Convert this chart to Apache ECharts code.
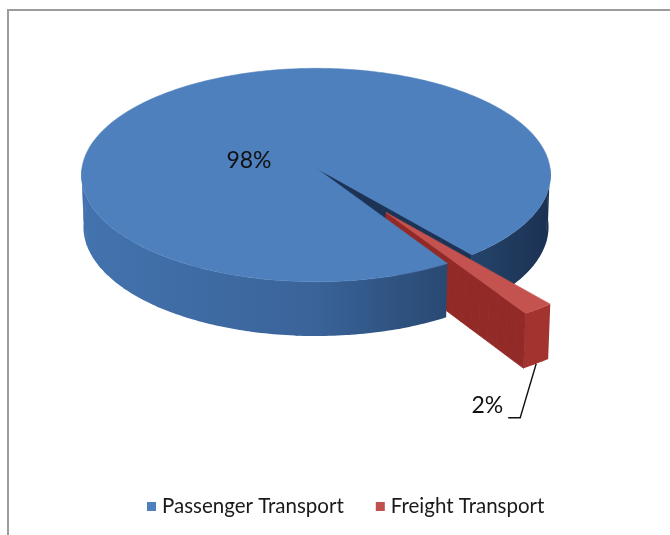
<!DOCTYPE html>
<html>
<head>
<meta charset="utf-8">
<script src="https://cdn.jsdelivr.net/npm/echarts@6/dist/echarts.min.js"></script>
<style>
  html, body { margin: 0; padding: 0; background: #ffffff; }
  #chart { width: 670px; height: 535px; }
</style>
</head>
<body>
<div id="chart"></div>
<script>
// Share of transport energy use, by segment
const categories = ['Passenger Transport', 'Freight Transport'];
const values = [98, 2];
const sliceColors = ['#4d80bd', '#c0504d'];

// Perspective camera for the tilted pie disk
const VIEW = {
  cx: 316, cy: 168,          // screen position of the disk centre
  focal: 3159, dist: 13.5,   // focal length and camera distance (disk radius = 1)
  tilt: 27 * Math.PI / 180,  // elevation of the camera
  thickness: 0.25,           // disk thickness
  firstAngle: 148,           // first slice starts here, clockwise from 12 o'clock
  explode: [0, 0.5]          // radial pull-out per slice
};

// Wall / face shading per slice
const SHADE = [
  { top: '#4d80bd', wall: [['#4373ae', 0], ['#3a6399', 0.5], ['#27476f', 0.8], ['#1b3152', 1]], edge: '#1c3355' },
  { top: '#c4524e', wall: [['#a3332f', 0], ['#a3332f', 1]], edge: '#922a27' }
];

const total = values.reduce((a, b) => a + b, 0);

function project(x, y, z) {
  const s = Math.sin(VIEW.tilt), c = Math.cos(VIEW.tilt);
  const zv = -y * s + z * c + VIEW.dist;
  const yv = y * c + z * s;
  return [VIEW.cx + VIEW.focal * x / zv, VIEW.cy - VIEW.focal * yv / zv, zv];
}

function pt(phiDeg, r, y, off) {
  const a = phiDeg * Math.PI / 180;
  return project(off[0] + r * Math.sin(a), y, off[1] + r * Math.cos(a));
}

function arc(start, end, r, y, off) {
  const n = Math.max(2, Math.ceil(Math.abs(end - start)));
  const out = [];
  for (let k = 0; k <= n; k++) out.push(pt(start + (end - start) * k / n, r, y, off));
  return out;
}

// painter's order for wall pieces: nearer pieces get a larger z2
function depthZ(points) {
  const d = points.reduce((s, p) => s + p[2], 0) / points.length;
  return 2 + (20 - d) / 10;
}

function xy(points) { return points.map(p => [p[0], p[1]]); }

function sliceRange(i) {
  let before = 0;
  for (let k = 0; k < i; k++) before += values[k];
  const start = VIEW.firstAngle + 360 * before / total;
  return [start, start + 360 * values[i] / total];
}

function makeRenderItem(i) {
  return function (params, api) {
    const v = api.value(0);
    const [start, end] = sliceRange(i);
    const mid = (start + end) / 2;
    const ma = mid * Math.PI / 180;
    const off = [VIEW.explode[i] * Math.sin(ma), VIEW.explode[i] * Math.cos(ma)];
    const t = VIEW.thickness;
    const shade = SHADE[i];
    const children = [];

    // radial cut walls that face the camera, in short radial pieces
    const edges = [];
    if (Math.sin(start * Math.PI / 180) < 0) edges.push(start);
    if (Math.sin(end * Math.PI / 180) > 0) edges.push(end);
    const pieces = 16;
    edges.forEach(phi => {
      for (let k = 0; k < pieces; k++) {
        const r0 = k / pieces, r1 = (k + 1) / pieces;
        const quad = [pt(phi, r0, 0, off), pt(phi, r1, 0, off), pt(phi, r1, -t, off), pt(phi, r0, -t, off)];
        children.push({
          type: 'polygon', z2: depthZ(quad),
          shape: { points: xy(quad) },
          style: { fill: shade.edge, stroke: shade.edge, lineWidth: 0.8 }
        });
      }
    });

    // outer rim wall on the front half, in overlapping angular chunks
    const wallGrad = new echarts.graphic.LinearGradient(82, 0, 550, 0,
      shade.wall.map(([color, offset]) => ({ offset, color })), true);
    const chunk = 12;
    for (let k = -1; k <= 2; k++) {
      const a = Math.max(start, 90 + 360 * k);
      const b = Math.min(end, 270 + 360 * k);
      if (b <= a) continue;
      for (let c0 = a; c0 < b; c0 += chunk) {
        const c1 = Math.min(b, c0 + chunk + 0.8);
        const topArc = arc(c0, c1, 1, 0, off);
        const botArc = arc(c0, c1, 1, -t, off).reverse();
        const poly = topArc.concat(botArc);
        children.push({
          type: 'polygon', z2: depthZ(poly),
          shape: { points: xy(poly) },
          style: { fill: wallGrad }
        });
      }
    }

    // top face
    const face = [pt(start, 0, 0, off)].concat(arc(start, end, 1, 0, off));
    children.push({
      type: 'polygon', z2: 10,
      shape: { points: xy(face) },
      style: { fill: shade.top, stroke: shade.top, lineWidth: 0.6 }
    });

    // percentage label
    const pct = Math.round(100 * v / total) + '%';
    const labelFont = { fontSize: 23, fontFamily: 'Lato', fill: '#111111' };
    if (i === 0) {
      children.push({
        type: 'text', z2: 20,
        style: Object.assign({ text: pct, x: VIEW.cx - 67, y: VIEW.cy - 7, align: 'center', verticalAlign: 'middle' }, labelFont)
      });
    } else {
      const foot = pt(mid, 1, -t, off);
      const elbow = [foot[0] - 16, foot[1] + 54];
      const tail = [elbow[0] - 12, elbow[1]];
      children.push({
        type: 'polyline', z2: 20,
        shape: { points: [[foot[0], foot[1]], elbow, tail] },
        style: { stroke: '#111111', lineWidth: 1.4, fill: null }
      });
      children.push({
        type: 'text', z2: 20,
        style: Object.assign({ text: pct, x: tail[0] - 5, y: tail[1] - 1, align: 'right', verticalAlign: 'bottom' }, labelFont)
      });
    }

    return { type: 'group', children };
  };
}

const chart = echarts.init(document.getElementById('chart'), null, { renderer: 'canvas' });

chart.setOption({
  backgroundColor: '#ffffff',
  animation: false,
  color: sliceColors,
  graphic: [{
    type: 'rect', silent: true, z: -10,
    shape: { x: 8, y: 10, width: 720, height: 620 },
    style: { fill: null, stroke: '#9c9c9c', lineWidth: 2 }
  }],
  legend: {
    data: categories,
    left: 142,
    top: 491,
    icon: 'rect',
    itemWidth: 9,
    itemHeight: 9,
    itemGap: 32,
    textStyle: { fontFamily: 'Lato', fontSize: 20.5, color: '#1a1a1a', padding: [0, 0, 0, 1] }
  },
  series: categories.map((name, i) => ({
    type: 'custom',
    name,
    coordinateSystem: 'none',
    silent: true,
    itemStyle: { color: sliceColors[i] },
    renderItem: makeRenderItem(i),
    data: [values[i]]
  }))
});
</script>
</body>
</html>
